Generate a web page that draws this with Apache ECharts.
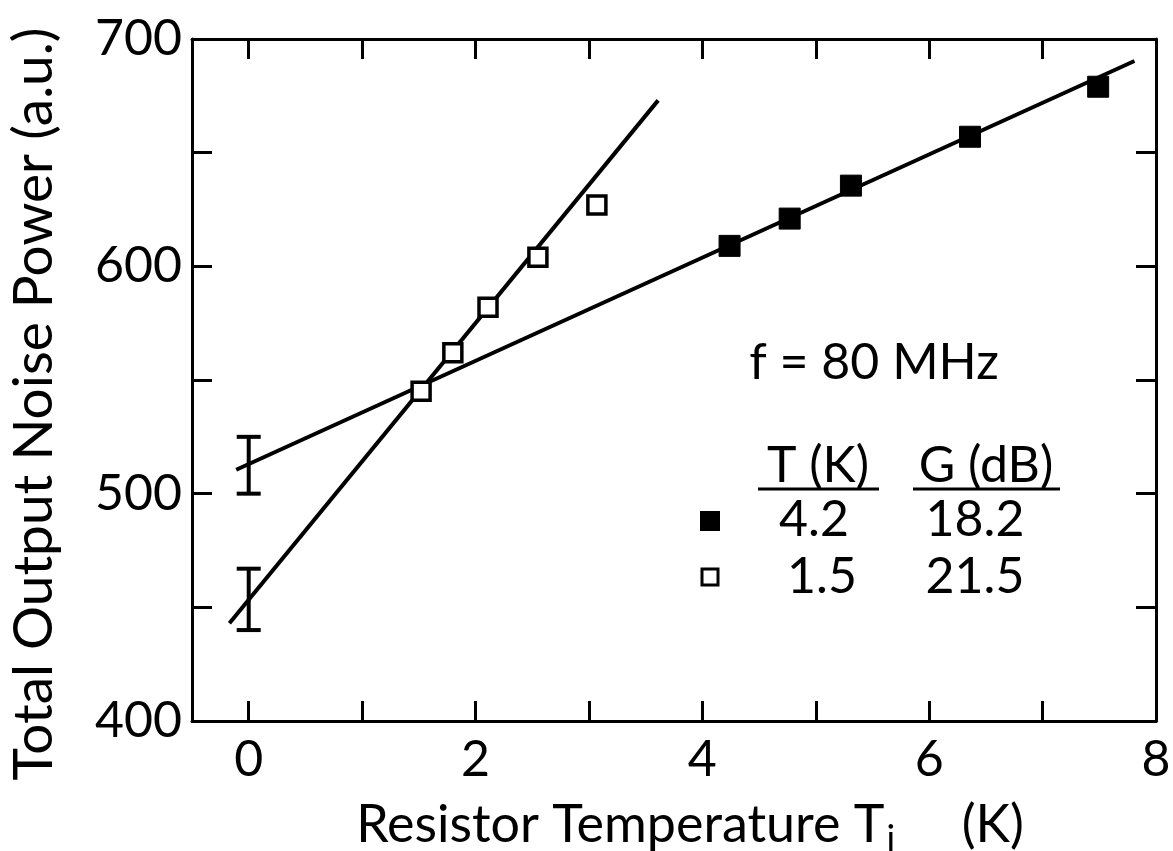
<!DOCTYPE html>
<html>
<head>
<meta charset="utf-8">
<script src="https://cdn.jsdelivr.net/npm/echarts@6/dist/echarts.min.js"></script>
<style>
  html, body { margin: 0; padding: 0; background: #fff; }
  #chart { width: 1173px; height: 851px; }
</style>
</head>
<body>
<div id="chart"></div>
<script>
// Measured points: amplifier at 4.2 K (filled) and at 1.5 K (open)
const tempFilled = [4.24, 4.77, 5.31, 6.36, 7.49];
const powerFilled = [609, 621, 635.5, 657, 679];
const tempOpen = [1.52, 1.80, 2.11, 2.55, 3.07];
const powerOpen = [545, 562, 582, 604, 627];

// Straight-line fits (end points) and extrapolated intercept error bars at T = 0
const fitFilled = [[-0.11, 510.5], [7.81, 690.3]];
const fitOpen = [[-0.17, 443], [3.61, 673]];
const errorBars = [[0, 500, 525], [0, 440, 467]];

// Axis ticks and labels
const xTicks = [0, 1, 2, 3, 4, 5, 6, 7, 8];
const xLabels = [0, 2, 4, 6, 8];
const yTicks = [400, 450, 500, 550, 600, 650, 700];
const yLabels = [400, 500, 600, 700];

// Inset table
const freqLabel = 'f = 80 MHz';
const tableHeaders = ['T (K)', 'G (dB)'];
const tableRows = [['4.2', '18.2'], ['1.5', '21.5']];

const FONT = 'Lato, "DejaVu Sans", sans-serif';
const INK = '#000';
const FS = 50;

const chart = echarts.init(document.getElementById('chart'), null, { renderer: 'canvas' });

function axisCommon(showLabels, ticks, labels) {
  return {
    type: 'value',
    axisLine: { show: true, onZero: false, lineStyle: { color: INK, width: 3 } },
    axisTick: { show: true, inside: true, length: 20, customValues: ticks, lineStyle: { color: INK, width: 3 } },
    axisLabel: showLabels ? {
      show: true, customValues: labels, color: INK, fontSize: FS, fontFamily: FONT,
      showMinLabel: true, showMaxLabel: true
    } : { show: false },
    splitLine: { show: false }
  };
}

const xBottom = Object.assign(axisCommon(true, xTicks, xLabels), {
  position: 'bottom', min: -0.5, max: 8,
  name: 'Resistor Temperature T{s|i}     (K)',
  nameLocation: 'middle', nameGap: 72,
  nameTextStyle: {
    color: INK, fontSize: 52, fontFamily: FONT, padding: [0, 0, 0, 32],
    rich: { s: { fontSize: 36, fontFamily: FONT, color: INK, padding: [28, 0, 0, 2] } }
  }
});
xBottom.axisLabel.margin = 14;
const xTop = Object.assign(axisCommon(false, xTicks, xLabels), { position: 'top', min: -0.5, max: 8 });

const yLeft = Object.assign(axisCommon(true, yTicks, yLabels), {
  position: 'left', min: 400, max: 700,
  name: 'Total Output Noise Power (a.u.)',
  nameLocation: 'middle', nameRotate: 90, nameGap: 130,
  nameTextStyle: { color: INK, fontSize: 55, fontFamily: FONT, padding: [0, 48, 0, 0] }
});
yLeft.axisLabel.margin = 10;
const yRight = Object.assign(axisCommon(false, yTicks, yLabels), { position: 'right', min: 400, max: 700 });

const lineStyle = { color: INK, width: 4 };
const txt = (s, x, y) => ({
  type: 'text', x: x, y: y,
  style: { text: s, font: FS + 'px ' + FONT, fill: INK, textAlign: 'center', textVerticalAlign: 'middle' }
});

const option = {
  backgroundColor: '#fff',
  animation: false,
  grid: { left: 192, right: 17, top: 39, bottom: 130, outerBoundsMode: 'none' },
  xAxis: [xBottom, xTop],
  yAxis: [yLeft, yRight],
  series: [
    {
      type: 'line', data: fitFilled, showSymbol: false, symbol: 'none',
      lineStyle: lineStyle, z: 2
    },
    {
      type: 'line', data: fitOpen, showSymbol: false, symbol: 'none',
      lineStyle: lineStyle, z: 2
    },
    {
      type: 'custom', z: 3,
      data: errorBars,
      renderItem: function (params, api) {
        const x = api.value(0);
        const lo = api.coord([x, api.value(1)]);
        const hi = api.coord([x, api.value(2)]);
        const w = 12;
        const st = { stroke: INK, lineWidth: 4 };
        return {
          type: 'group',
          children: [
            { type: 'line', shape: { x1: lo[0], y1: lo[1], x2: hi[0], y2: hi[1] }, style: st },
            { type: 'line', shape: { x1: lo[0] - w, y1: lo[1], x2: lo[0] + w, y2: lo[1] }, style: st },
            { type: 'line', shape: { x1: hi[0] - w, y1: hi[1], x2: hi[0] + w, y2: hi[1] }, style: st }
          ]
        };
      }
    },
    {
      type: 'scatter', z: 5,
      data: tempFilled.map((t, i) => [t, powerFilled[i]]),
      symbol: 'rect', symbolSize: 21,
      itemStyle: { color: INK, borderColor: INK, borderWidth: 1, opacity: 1 }
    },
    {
      type: 'scatter', z: 5,
      data: tempOpen.map((t, i) => [t, powerOpen[i]]),
      symbol: 'rect', symbolSize: 18,
      itemStyle: { color: '#fff', borderColor: INK, borderWidth: 3.5, opacity: 1 }
    }
  ],
  graphic: [
    txt(freqLabel, 874, 363),
    txt(tableHeaders[0], 818, 466),
    txt(tableHeaders[1], 986, 466),
    { type: 'line', shape: { x1: 758, y1: 489, x2: 879, y2: 489 }, style: { stroke: INK, lineWidth: 3 } },
    { type: 'line', shape: { x1: 913, y1: 489, x2: 1060, y2: 489 }, style: { stroke: INK, lineWidth: 3 } },
    { type: 'rect', shape: { x: 700, y: 511, width: 20, height: 20 }, style: { fill: INK } },
    { type: 'rect', shape: { x: 702, y: 569, width: 16, height: 16 }, style: { fill: '#fff', stroke: INK, lineWidth: 3 } },
    txt(tableRows[0][0], 814, 520),
    txt(tableRows[0][1], 975, 520),
    txt(tableRows[1][0], 822, 577),
    txt(tableRows[1][1], 975, 577)
  ]
};

chart.setOption(option);
</script>
</body>
</html>
